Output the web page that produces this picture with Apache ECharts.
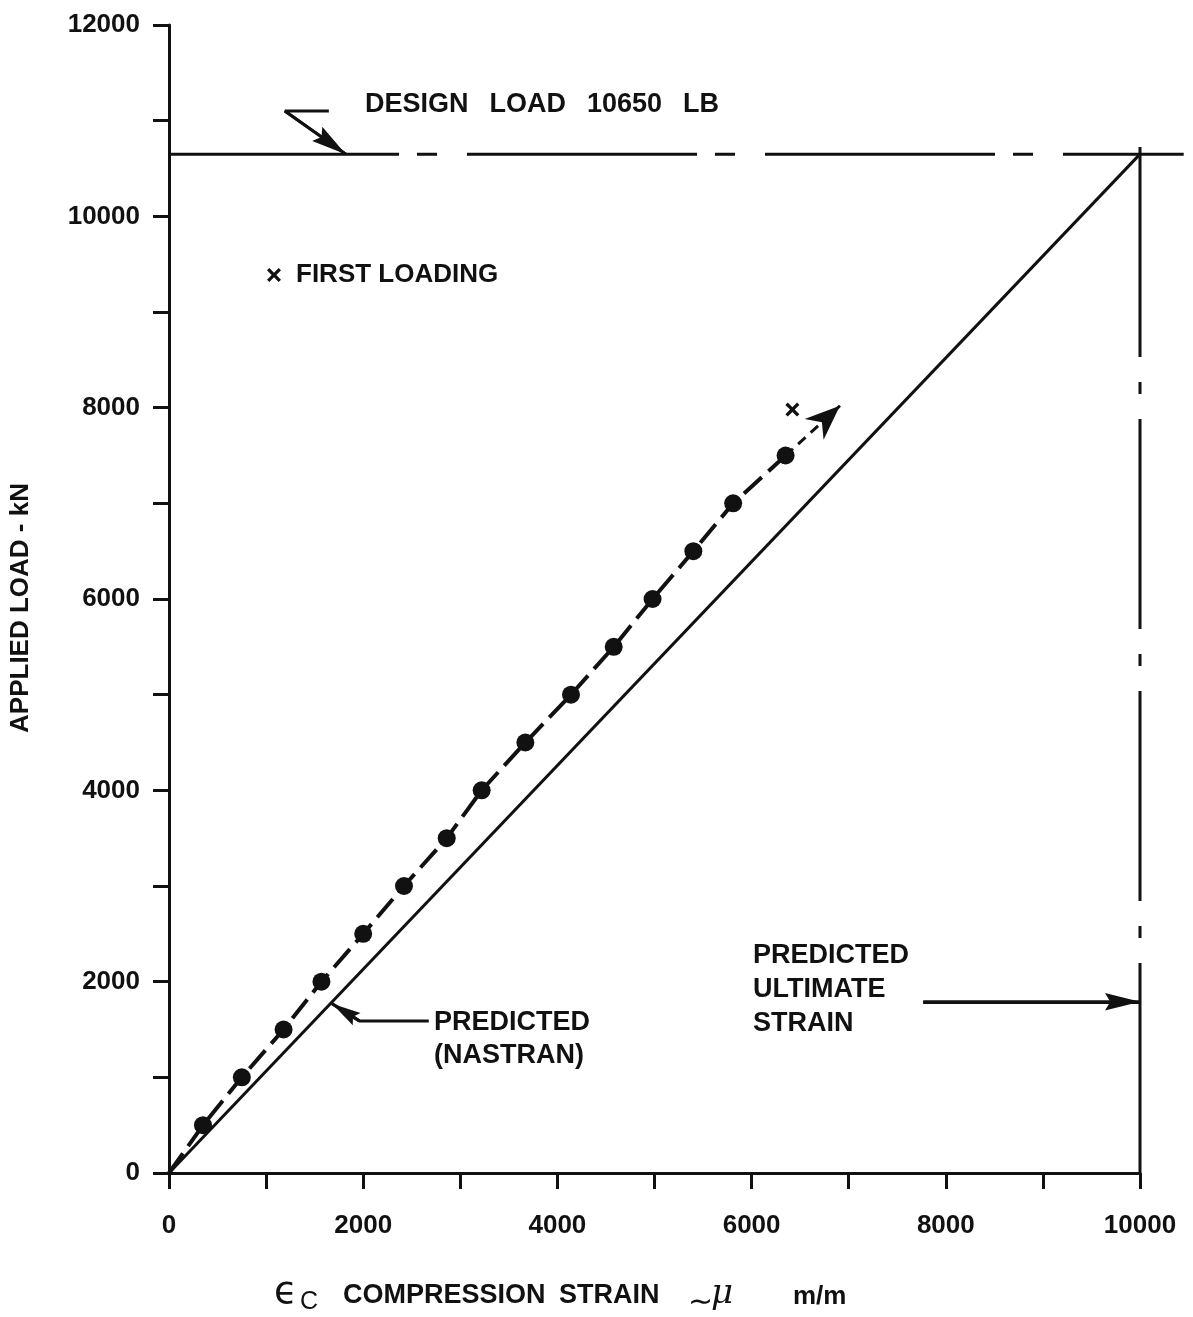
<!DOCTYPE html>
<html>
<head>
<meta charset="utf-8">
<script src="https://cdn.jsdelivr.net/npm/echarts@6/dist/echarts.min.js"></script>
<style>
  html, body { margin: 0; padding: 0; background: #ffffff; }
  #chart { width: 1193px; height: 1317px; }
</style>
</head>
<body>
<div id="chart"></div>
<script>
// Compression strain (micro m/m) against applied load, gauge readings
const strainMeasured = [350, 750, 1180, 1570, 2000, 2420, 2860, 3220, 3670, 4140, 4580, 4980, 5400, 5810, 6350];
const loadMeasured   = [500, 1000, 1500, 2000, 2500, 3000, 3500, 4000, 4500, 5000, 5500, 6000, 6500, 7000, 7500];

// First loading reading
const firstLoadingStrain = [6420];
const firstLoadingLoad   = [7980];

// Trend arrow continuing past the last reading
const trendTip = [6910, 8020];

// NASTRAN prediction
const predictedStrain = [0, 10000];
const predictedLoad   = [0, 10650];

// Reference lines
const designLoad = 10650;
const designLineEnd = 10450;
const ultimateStrain = 10000;
const ultimateLineTop = 10740;

// Annotation leader paths (strain, load)
const designArrowPath   = [[1646, 11101], [1193, 11101], [1821, 10650]];
const nastranArrowPath  = [[2675, 1590], [1960, 1590], [1680, 1770]];
const ultimateArrowPath = [[7767, 1790], [10000, 1790]];

// Axis ticks
const xTickValues = [0, 2000, 4000, 6000, 8000, 10000];
const xTickLabels = ['0', '2000', '4000', '6000', '8000', '10000'];
const yTickValues = [0, 2000, 4000, 6000, 8000, 10000, 12000];
const yTickLabels = ['0', '2000', '4000', '6000', '8000', '10000', '12000'];

const ink = '#111111';
const FONT = '"Liberation Sans", Arial, Helvetica, sans-serif';

// arrow heads drawn pointing up, tip at the centre of the symbol box
const slimHead = 'path://M0,0M40,40M20,20L25,40L20,37L15,40Z';
const bigHead  = 'path://M0,0M40,40M20,20L28,40L20,34L12,40Z';
const crossMark = 'path://M0,2L2,0L6,4L10,0L12,2L8,6L12,10L10,12L6,8L2,12L0,10L4,6Z';

const zip = (a, b) => a.map((v, i) => [v, b[i]]);

function arrowHead(from, to, head, size, dash) {
  return {
    silent: true,
    animation: false,
    symbol: ['none', head],
    symbolSize: size,
    label: { show: false },
    emphasis: { disabled: true },
    itemStyle: { color: ink, opacity: 1 },
    lineStyle: { color: ink, width: 3, opacity: 1, type: dash || 'solid' },
    data: [[{ coord: from }, { coord: to }]]
  };
}

function leader(path, head, size) {
  const n = path.length;
  return {
    type: 'line',
    data: path,
    showSymbol: false,
    silent: true,
    z: 4,
    color: ink,
    lineStyle: { color: ink, width: 3 },
    markLine: arrowHead(path[n - 2], path[n - 1], head, size)
  };
}

const measured = zip(strainMeasured, loadMeasured);
const lastReading = measured[measured.length - 1];

const chart = echarts.init(document.getElementById('chart'), null, { renderer: 'canvas' });

chart.setOption({
  animation: false,
  backgroundColor: '#ffffff',
  color: [ink],
  grid: { left: 168, right: 53, top: 25, bottom: 144, containLabel: false },
  legend: {
    data: [{ name: 'FIRST LOADING', icon: crossMark }],
    left: 262,
    top: 257,
    itemWidth: 14,
    itemHeight: 14,
    selectedMode: false,
    textStyle: { color: ink, fontFamily: FONT, fontWeight: 'bold', fontSize: 26, padding: [0, 0, 0, 10] }
  },
  xAxis: {
    type: 'value',
    min: 0,
    max: 10000,
    interval: 2000,
    axisLine: { show: true, onZero: false, lineStyle: { color: ink, width: 3 } },
    axisTick: { show: true, length: 16, lineStyle: { color: ink, width: 3 } },
    minorTick: { show: true, splitNumber: 2, length: 16, lineStyle: { color: ink, width: 3 } },
    splitLine: { show: false },
    axisLabel: {
      margin: 40,
      color: ink,
      fontFamily: FONT,
      fontWeight: 'bold',
      fontSize: 26,
      formatter: v => { const i = xTickValues.indexOf(v); return i < 0 ? '' : xTickLabels[i]; }
    }
  },
  yAxis: {
    type: 'value',
    min: 0,
    max: 12000,
    interval: 2000,
    name: 'APPLIED LOAD - kN',
    nameLocation: 'middle',
    nameRotate: 90,
    nameGap: 135,
    nameTextStyle: { color: ink, fontFamily: FONT, fontWeight: 'bold', fontSize: 26, padding: [0, 18, 0, 0] },
    axisLine: { show: true, onZero: false, lineStyle: { color: ink, width: 3 } },
    axisTick: { show: true, length: 16, lineStyle: { color: ink, width: 3 } },
    minorTick: { show: true, splitNumber: 2, length: 16, lineStyle: { color: ink, width: 3 } },
    splitLine: { show: false },
    axisLabel: {
      margin: 29,
      color: ink,
      fontFamily: FONT,
      fontWeight: 'bold',
      fontSize: 26,
      formatter: v => { const i = yTickValues.indexOf(v); return i < 0 ? '' : yTickLabels[i]; }
    }
  },
  series: [
    {
      name: 'PREDICTED (NASTRAN)',
      type: 'line',
      data: zip(predictedStrain, predictedLoad),
      showSymbol: false,
      silent: true,
      z: 3,
      lineStyle: { color: ink, width: 3 }
    },
    {
      name: 'DESIGN LOAD',
      type: 'line',
      data: [[0, designLoad], [ultimateStrain, designLoad]],
      showSymbol: false,
      silent: true,
      clip: false,
      z: 3,
      lineStyle: { color: ink, width: 3, type: [230, 18, 20, 30] }
    },
    {
      name: 'PREDICTED ULTIMATE STRAIN',
      type: 'line',
      data: [[ultimateStrain, 0], [ultimateStrain, ultimateLineTop]],
      showSymbol: false,
      silent: true,
      clip: false,
      z: 3,
      lineStyle: { color: ink, width: 3, type: [210, 25, 12, 25] }
    },
    {
      name: 'TREND',
      type: 'line',
      data: [[0, 0]].concat(measured),
      showSymbol: false,
      silent: true,
      z: 4,
      lineStyle: { color: ink, width: 4, type: [24, 9] },
      markLine: arrowHead(lastReading, trendTip, bigHead, 70, [10, 7])
    },
    {
      name: 'MEASURED',
      type: 'scatter',
      data: measured,
      symbol: 'circle',
      symbolSize: 18,
      silent: true,
      z: 6,
      itemStyle: { color: ink, opacity: 1 }
    },
    {
      name: 'FIRST LOADING',
      type: 'scatter',
      data: zip(firstLoadingStrain, firstLoadingLoad),
      symbol: crossMark,
      symbolSize: 14,
      silent: true,
      z: 6,
      itemStyle: { color: ink, opacity: 1 }
    },
    leader(designArrowPath, slimHead, 70),
    leader(nastranArrowPath, slimHead, 58),
    leader(ultimateArrowPath, slimHead, 70)
  ],
  graphic: [
    {
      type: 'text', x: 365, y: 105, silent: true,
      style: { text: 'DESIGN\u2002 LOAD\u2002 10650\u2002 LB', fill: ink, font: 'bold 27px ' + FONT, verticalAlign: 'middle' }
    },
    {
      type: 'text', x: 434, y: 1006, silent: true,
      style: { text: 'PREDICTED\n(NASTRAN)', fill: ink, font: 'bold 27px ' + FONT, lineHeight: 33, verticalAlign: 'top' }
    },
    {
      type: 'text', x: 753, y: 939, silent: true,
      style: { text: 'PREDICTED\nULTIMATE\nSTRAIN', fill: ink, font: 'bold 27px ' + FONT, lineHeight: 34, verticalAlign: 'top' }
    },
    {
      type: 'text', x: 274, y: 1293, silent: true,
      style: { text: '\u03F5', fill: ink, font: '38px "DejaVu Sans", sans-serif', verticalAlign: 'middle' }
    },
    {
      type: 'text', x: 300, y: 1302, silent: true,
      style: { text: 'C', fill: ink, font: '25px ' + FONT, verticalAlign: 'middle' }
    },
    {
      type: 'text', x: 343, y: 1296, silent: true,
      style: { text: 'COMPRESSION\u2002STRAIN', fill: ink, font: 'bold 27px ' + FONT, verticalAlign: 'middle' }
    },
    {
      type: 'text', x: 688, y: 1303, silent: true,
      style: { text: '\u223C', fill: ink, font: '30px "DejaVu Sans", sans-serif', verticalAlign: 'middle' }
    },
    {
      type: 'text', x: 711, y: 1294, silent: true,
      style: { text: '\u03BC', fill: ink, font: 'italic 34px "DejaVu Serif", serif', verticalAlign: 'middle' }
    },
    {
      type: 'text', x: 793, y: 1297, silent: true,
      style: { text: 'm/m', fill: ink, font: 'bold 26px ' + FONT, verticalAlign: 'middle' }
    }
  ]
});

// design load line runs on a little past the ultimate strain line, outside the plot area
const runFrom = chart.convertToPixel({ gridIndex: 0 }, [ultimateStrain, designLoad]);
const runTo = chart.convertToPixel({ gridIndex: 0 }, [designLineEnd, designLoad]);
chart.setOption({
  graphic: [{
    id: 'design-run-on',
    type: 'line',
    silent: true,
    z: 3,
    shape: { x1: runFrom[0], y1: runFrom[1], x2: runTo[0], y2: runTo[1] },
    style: { stroke: ink, lineWidth: 3 }
  }]
});
</script>
</body>
</html>
